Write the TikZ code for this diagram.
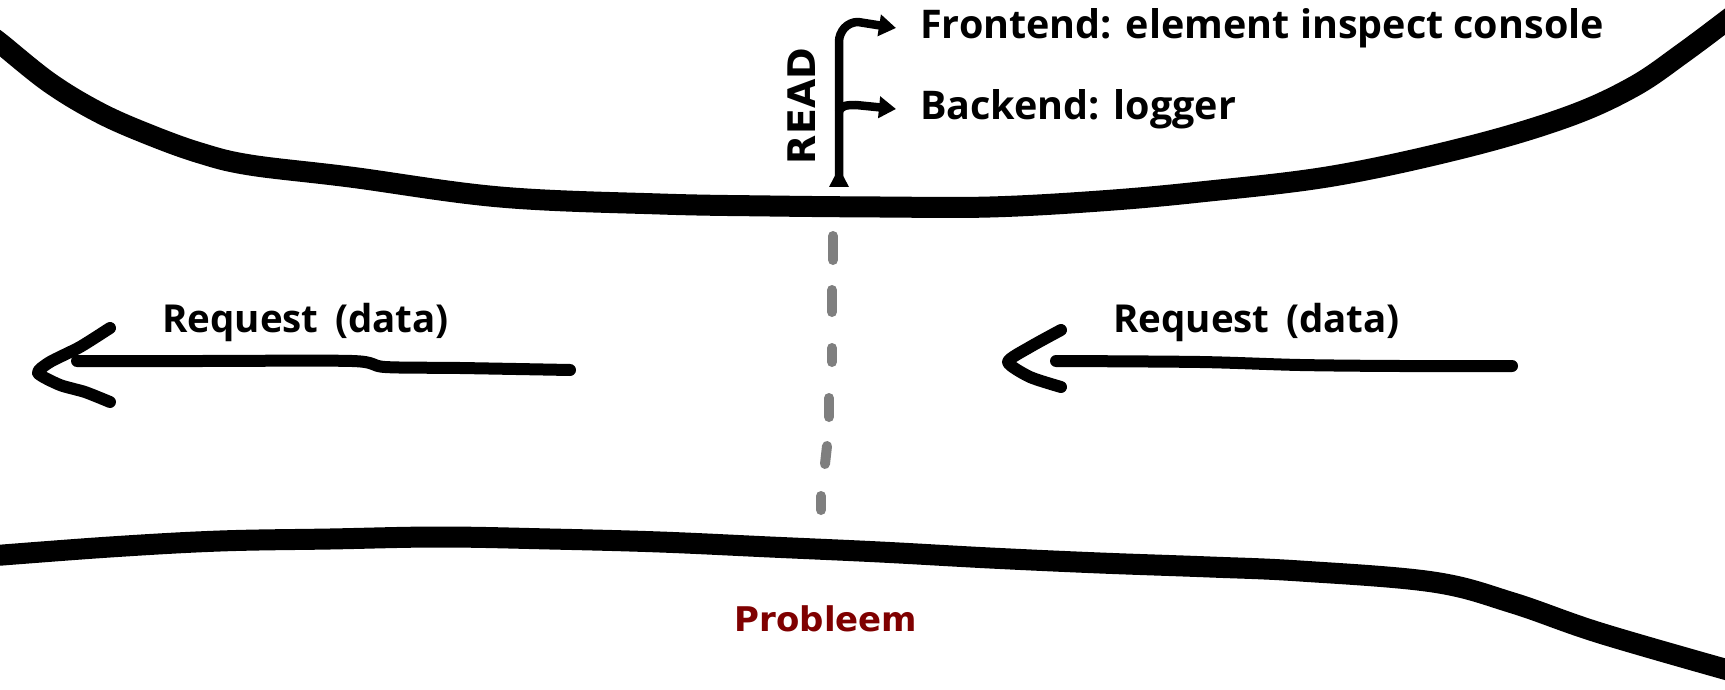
\documentclass[tikz,border=0pt]{standalone}
\usepackage{fontspec}
\setmainfont{Open Sans}
\newfontfamily\dvfont{DejaVu Sans}
\usetikzlibrary{arrows.meta}
\definecolor{probred}{HTML}{7F0000}
\definecolor{dashgray}{HTML}{7F7F7F}
\begin{document}
\begin{tikzpicture}[x=1pt,y=-1pt,
  wall/.style={line width=21pt, line cap=round, line join=round},
  stroke/.style={line width=12pt, line cap=round, line join=round},
  readline/.style={line width=8.5pt, line join=round},
  gdash/.style={line width=10pt, line cap=round, dashgray},
  lbl/.style={font=\bfseries\fontsize{39.5}{44}\selectfont, inner sep=0pt, anchor=west},
  reqlbl/.style={font=\bfseries\fontsize{38.5}{44}\selectfont, inner sep=0pt, anchor=west},
  readlbl/.style={font=\dvfont\bfseries\fontsize{38}{44}\selectfont, inner sep=0pt, rotate=90},
  problbl/.style={font=\dvfont\bfseries\fontsize{34}{40}\selectfont, inner sep=0pt, text=probred},
  tip/.style={-{Triangle[length=17pt,width=21pt]}}
]
\useasboundingbox (0,0) rectangle (1725,690);
\fill[white] (0,0) rectangle (1725,690);

% top wall
\draw[wall] plot[smooth, tension=0.6] coordinates {(-10,36) (0,43) (50,83) (100,113) (150,135) (200,153) (250,165) (350,177) (500,197) (660,204) (770,206) (880,207) (990,207) (1100,201) (1200,192) (1333,176) (1467,147) (1567,117) (1633,87) (1683,53) (1735,14)};
% bottom wall
\draw[wall] plot[smooth, tension=0.6] coordinates {(-10,556) (110,547) (220,541) (330,539) (440,537) (550,539) (660,542) (770,547) (880,552) (990,558) (1100,563) (1210,567) (1300,571) (1433,582) (1513,603) (1600,633) (1735,672)};

% gray dashes
\draw[gdash] (833,236) -- (833,260);
\draw[gdash] (832,290) -- (832,312);
\draw[gdash] (832,348) -- (832,362);
\draw[gdash] (829,398) -- (829,417);
\draw[gdash] (827,446) -- (825,464);
\draw[gdash] (821,496) -- (821,510);

% text
\node[lbl] (front) at (920,28) {Frontend: element inspect console};
\node[lbl] (back) at (920,109) {Backend: logger};
\node[readlbl] (read) at (802,106) {READ};
\node[reqlbl] (reqL) at (162,322) {Request\, (data)};
\node[reqlbl] (reqR) at (1113,322) {Request\, (data)};
\node[problbl] (prob) at (826,619) {Probleem};

% READ connector
\coordinate (foot) at (839,180);
\draw[readline, tip] (foot) -- (839,42) to[out=90,in=180] (858,22) -- ([xshift=-24pt]front.west);
\draw[readline, tip] (839,112) to[out=80,in=180] (856,105) -- ([xshift=-24pt]back.west);
\fill (829,187) -- (849,187) -- (839,168) -- cycle;

% left request arrow
\draw[stroke] plot[smooth, tension=0.5] coordinates {(77,361) (200,361) (352,361) (385,367) (460,368) (570,370)};
\draw[stroke] plot[smooth, tension=0.4] coordinates {(110,328) (80,347) (50,362) (38,373) (60,385) (85,392) (110,402)};
% right request arrow
\draw[stroke] plot[smooth, tension=0.5] coordinates {(1056,361) (1200,362) (1300,365) (1400,366) (1512,366)};
\draw[stroke] plot[smooth, tension=0.4] coordinates {(1061,330) (1030,347) (1008,362) (1030,377) (1061,387)};
\end{tikzpicture}
\end{document}
